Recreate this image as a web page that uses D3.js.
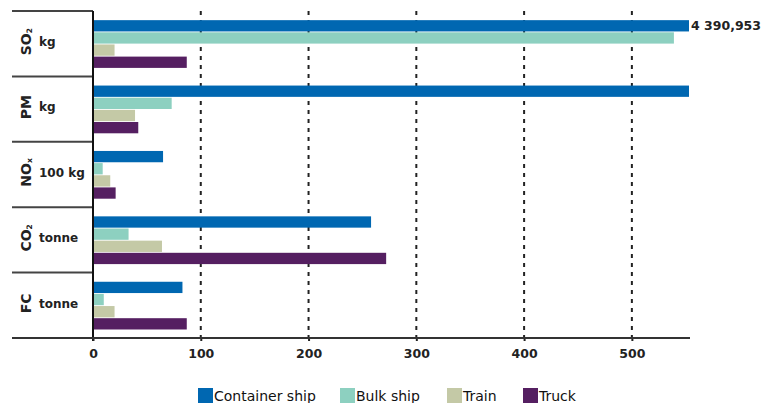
<!DOCTYPE html>
<html>
<head>
<meta charset="utf-8">
<script src="https://cdn.jsdelivr.net/npm/d3@7/dist/d3.min.js"></script>
<style>
  html, body { margin: 0; padding: 0; background: #fff; }
  svg { display: block; font-family: "DejaVu Sans", sans-serif; }
</style>
</head>
<body>
<svg id="chart" width="765" height="403"></svg>
<script>
// Emission categories (top to bottom): main symbol, subscript, unit
const categories = ["SO2", "PM", "NOx", "CO2", "FC"];
const catSymbol  = ["SO", "PM", "NO", "CO", "FC"];
const catSub     = ["2", "", "x", "2", ""];
const catUnit    = ["kg", "kg", "100 kg", "tonne", "tonne"];

// Transport modes
const series = ["Container ship", "Bulk ship", "Train", "Truck"];
const colors = ["#0067b1", "#8dd0c0", "#c4c9a6", "#551f61"];

// Values per category, one array per transport mode
const containerShip = [4390953, 600, 65, 258, 83];
const bulkShip      = [539, 73, 9, 33, 10];
const train         = [20, 39, 16, 64, 20];
const truck         = [87, 42, 21, 272, 87];
const seriesValues  = [containerShip, bulkShip, train, truck];

// Annotated value for the off-scale bar
const valueLabels = [{ cat: "SO2", series: "Container ship", text: "4 390,953" }];

const xTicks = [0, 100, 200, 300, 400, 500];

const svg = d3.select("#chart");
const plotLeft = 93, plotRight = 689, plotTop = 11, plotBottom = 338, labelLeft = 12;

const x = d3.scaleLinear().domain([0, 553]).range([plotLeft, plotRight]).clamp(true);
const y = d3.scaleBand().domain(categories).range([plotTop, plotBottom]);
const bw = y.bandwidth();
const y1 = d3.scaleBand().domain(series).range([bw * 0.14, bw * 0.87]).paddingInner(0.07);

// Dashed vertical grid lines
svg.append("g").selectAll("line")
  .data(xTicks.filter(d => d > 0))
  .join("line")
  .attr("x1", d => x(d)).attr("x2", d => x(d))
  .attr("y1", plotTop).attr("y2", plotBottom)
  .attr("stroke", "#222").attr("stroke-width", 2)
  .attr("stroke-dasharray", "4,5");

// Bars
const groups = svg.append("g").selectAll("g")
  .data(categories)
  .join("g")
  .attr("transform", d => `translate(0,${y(d)})`);

groups.selectAll("rect")
  .data((c, i) => series.map((s, j) => ({ s, j, v: seriesValues[j][i] })))
  .join("rect")
  .attr("x", x(0))
  .attr("y", d => y1(d.s))
  .attr("width", d => x(d.v) - x(0))
  .attr("height", y1.bandwidth())
  .attr("fill", d => colors[d.j]);

// Value annotation
svg.append("g").selectAll("text")
  .data(valueLabels)
  .join("text")
  .attr("x", d => x(seriesValues[series.indexOf(d.series)][categories.indexOf(d.cat)]) + 2)
  .attr("y", d => y(d.cat) + y1(d.series) + y1.bandwidth() / 2)
  .attr("dy", "0.36em")
  .attr("font-size", 12.5).attr("font-weight", "bold").attr("fill", "#222")
  .text(d => d.text);

// Category separators in the label column
svg.append("g").selectAll("line")
  .data(categories.map(c => y(c)))
  .join("line")
  .attr("x1", labelLeft).attr("x2", plotLeft)
  .attr("y1", d => d).attr("y2", d => d)
  .attr("stroke", "#444").attr("stroke-width", 2);

// Vertical axis line
svg.append("line")
  .attr("x1", plotLeft).attr("x2", plotLeft).attr("y1", plotTop).attr("y2", plotBottom + 3)
  .attr("stroke", "#111").attr("stroke-width", 2);

// Bottom axis
const xAxis = d3.axisBottom(x).tickValues(xTicks).tickSize(3).tickPadding(8).tickFormat(d3.format("d"));
const ax = svg.append("g").attr("transform", `translate(0,${plotBottom})`).call(xAxis);
ax.select(".domain").remove();
ax.selectAll(".tick line").attr("stroke", "#222").attr("stroke-width", 2);
ax.selectAll(".tick text")
  .attr("font-family", "DejaVu Sans").attr("font-size", 12.5)
  .attr("font-weight", "bold").attr("fill", "#222");
svg.append("line")
  .attr("x1", labelLeft).attr("x2", plotRight + 1).attr("y1", plotBottom).attr("y2", plotBottom)
  .attr("stroke", "#333").attr("stroke-width", 2);

// Category labels: rotated symbol with subscript, then the unit
const lab = svg.append("g").selectAll("g")
  .data(categories)
  .join("g")
  .attr("transform", d => `translate(0,${y(d) + bw / 2 - 2})`);

lab.append("text")
  .attr("transform", "translate(31,0) rotate(-90)")
  .attr("text-anchor", "middle")
  .attr("font-size", 14).attr("font-weight", "bold").attr("fill", "#222")
  .each(function (d, i) {
    const t = d3.select(this);
    t.append("tspan").text(catSymbol[i]);
    if (catSub[i]) {
      t.append("tspan").attr("font-size", 7.5).attr("dy", 1).text(catSub[i]);
    }
  });

lab.append("text")
  .attr("x", 39).attr("y", 0).attr("dy", "0.36em")
  .attr("font-size", 12).attr("font-weight", "bold").attr("fill", "#222")
  .text((d, i) => catUnit[i]);

// Legend
const legendX = [198, 340, 447, 523];
const leg = svg.append("g").selectAll("g")
  .data(series)
  .join("g")
  .attr("transform", (d, i) => `translate(${legendX[i]},388)`);
leg.append("rect").attr("width", 15).attr("height", 15).attr("fill", (d, i) => colors[i]);
leg.append("text")
  .attr("x", 16).attr("y", 13)
  .attr("font-size", 14).attr("fill", "#111")
  .text(d => d);
</script>
</body>
</html>
